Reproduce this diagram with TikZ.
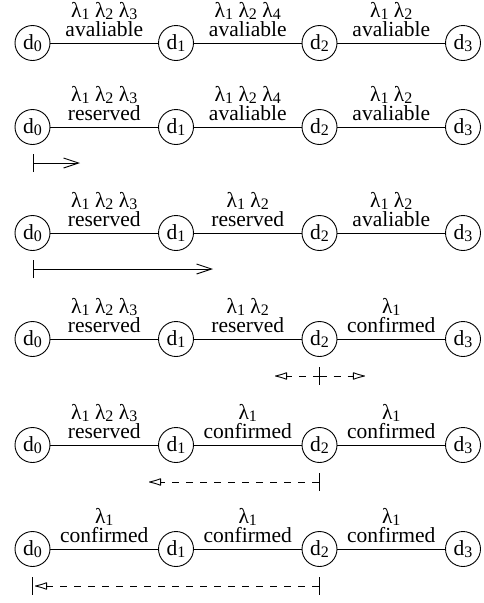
\documentclass[tikz,border=0pt]{standalone}
\usepackage{fontspec}
\setmainfont{Liberation Serif}
\usetikzlibrary{arrows.meta}

% lowered, smaller index used for d_i and lambda_i
\newcommand\sbs[1]{\raisebox{-2pt}{\fontsize{16}{16}\selectfont #1}}
\newcommand\lmb[1]{λ\sbs{#1}}
\newcommand\txtfont{\fontsize{21.5}{19}\selectfont}

\tikzset{
  site/.style={draw, circle, minimum size=35pt, inner sep=0pt, line width=0.9pt, font=\txtfont},
  link/.style={line width=0.9pt},
  lbl/.style={inner sep=0pt, font=\txtfont, align=center, anchor=south},
  walk/.style={line width=0.9pt},
  probe/.style={line width=0.9pt, dash pattern=on 7pt off 7pt},
  ticktip/.tip={Bar[width=18pt]},
  fwdtip/.tip={Straight Barb[length=15pt,width=10pt]},
  backtip/.tip={Latex[open,round,length=14pt,width=8pt]},
}

% a chain of four nodes d0..d3 on row #1 at height #2
\newcommand\chain[2]{%
  \foreach \i/\x in {0/32.5,1/176,2/319.5,3/463}
    \node[site] (r#1d\i) at (\x,#2) {d\sbs{\i}};}

% link between two nodes of a row with its wavelength set and status
\newcommand\hop[5]{%
  \draw[link] (r#1d#2) -- (r#1d#3)
    node[lbl, midway, yshift=6pt] (s#1#2) {#4\\#5};}

\begin{document}
\begin{tikzpicture}[x=1pt, y=-1pt]
\useasboundingbox (0,0) rectangle (484,603);

% row 1
\chain{1}{43}
\hop{1}{0}{1}{\lmb1 \lmb2 \lmb3}{avaliable}
\hop{1}{1}{2}{\lmb1 \lmb2 \lmb4}{avaliable}
\hop{1}{2}{3}{\lmb1 \lmb2}{avaliable}

% row 2
\chain{2}{127}
\hop{2}{0}{1}{\lmb1 \lmb2 \lmb3}{reserved}
\hop{2}{1}{2}{\lmb1 \lmb2 \lmb4}{avaliable}
\hop{2}{2}{3}{\lmb1 \lmb2}{avaliable}
\coordinate (a2s) at (32.5,163);
\coordinate (a2e) at (80,163);
\draw[walk, {ticktip}-{fwdtip}] (a2s) -- (a2e);

% row 3
\chain{3}{233}
\hop{3}{0}{1}{\lmb1 \lmb2 \lmb3}{reserved}
\hop{3}{1}{2}{\lmb1 \lmb2}{reserved}
\hop{3}{2}{3}{\lmb1 \lmb2}{avaliable}
\coordinate (a3s) at (32.5,269);
\coordinate (a3e) at (213,269);
\draw[walk, {ticktip}-{fwdtip}] (a3s) -- (a3e);

% row 4
\chain{4}{339}
\hop{4}{0}{1}{\lmb1 \lmb2 \lmb3}{reserved}
\hop{4}{1}{2}{\lmb1 \lmb2}{reserved}
\hop{4}{2}{3}{\lmb1}{confirmed}
\coordinate (a4c) at (319.5,376);
\coordinate (a4l) at (275,376);
\coordinate (a4r) at (365,376);
\draw[probe, -{backtip}] (a4c) -- (a4l);
\draw[probe, -{backtip}] (a4c) -- (a4r);
\draw[walk] ([yshift=9pt]a4c) -- ([yshift=-9pt]a4c);

% row 5
\chain{5}{445}
\hop{5}{0}{1}{\lmb1 \lmb2 \lmb3}{reserved}
\hop{5}{1}{2}{\lmb1}{confirmed}
\hop{5}{2}{3}{\lmb1}{confirmed}
\coordinate (a5s) at (319.5,482);
\coordinate (a5e) at (149,482);
\draw[probe, {ticktip}-{backtip}] (a5s) -- (a5e);

% row 6
\chain{6}{549}
\hop{6}{0}{1}{\lmb1}{confirmed}
\hop{6}{1}{2}{\lmb1}{confirmed}
\hop{6}{2}{3}{\lmb1}{confirmed}
\coordinate (a6s) at (319.5,586);
\coordinate (a6e) at (35,586);
\coordinate (a6b) at (32.5,586);
\draw[probe, {ticktip}-{backtip}] (a6s) -- (a6e);
\draw[walk] ([yshift=9pt]a6b) -- ([yshift=-9pt]a6b);
\end{tikzpicture}
\end{document}
